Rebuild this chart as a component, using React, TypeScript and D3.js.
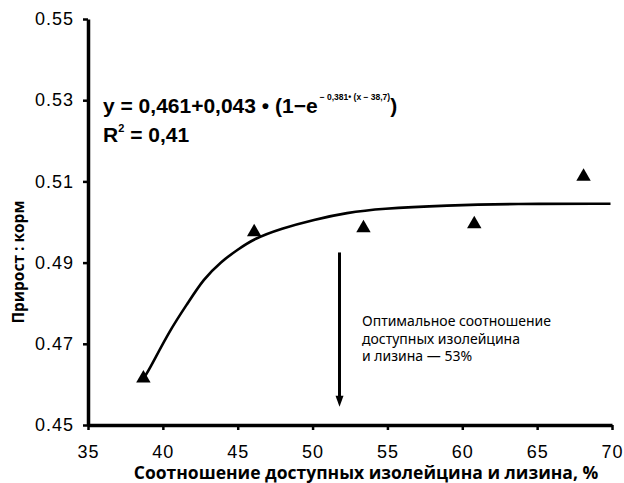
import React, { useRef, useEffect } from 'react';
import * as d3 from 'd3';

// observed points (isoleucine:lysine ratio, gain:feed)
const ratioX = [38.7, 46.1, 53.4, 60.8, 68.1];
const gainFeed = [0.4615, 0.4975, 0.4985, 0.4995, 0.5112];

// fitted curve
const fitX = [38.7, 39.0, 40.5, 41.7, 42.7, 43.9, 45.0, 46.1, 47.9, 50.1, 52.3, 54.5, 59.0, 63.4, 69.9];
const fitY = [0.4615, 0.4630, 0.4736, 0.4802, 0.4859, 0.4903, 0.4932, 0.4959, 0.4984, 0.5006, 0.5023, 0.5033, 0.5041, 0.5045, 0.5045];

const xTicks = [35, 40, 45, 50, 55, 60, 65, 70];
const yTicks = [0.45, 0.47, 0.49, 0.51, 0.53, 0.55];

// optimum arrow
const arrowX = 51.8;
const arrowTop = 0.4925;
const arrowBottom = 0.4545;

const noteLines = ['Оптимальное соотношение', 'доступных изолейцина', 'и лизина — 53%'];

const W = 624;
const H = 483;

const App = () => {
  const xAxisRef = useRef<SVGGElement>(null);
  const yAxisRef = useRef<SVGGElement>(null);

  const x = d3.scaleLinear().domain([35, 70]).range([88, 612]);
  const y = d3.scaleLinear().domain([0.45, 0.55]).range([425, 19]);

  useEffect(() => {
    const xa = d3.select(xAxisRef.current);
    xa.selectAll('*').remove();
    xa.call(
      d3.axisBottom(x).tickValues(xTicks).tickSize(5).tickSizeOuter(0).tickPadding(15).tickFormat(d3.format('d'))
    );
    const ya = d3.select(yAxisRef.current);
    ya.selectAll('*').remove();
    ya.call(
      d3.axisLeft(y).tickValues(yTicks).tickSize(5).tickSizeOuter(0).tickPadding(9).tickFormat(d3.format('.2f'))
    );
    [xa, ya].forEach((g) => {
      g.select('.domain').attr('stroke', '#000').attr('stroke-width', 3.5);
      g.selectAll('.tick line').attr('stroke', '#000').attr('stroke-width', 2.5);
      g.selectAll('.tick text')
        .attr('fill', '#000')
        .style('font-family', '"Liberation Sans Narrow", "Liberation Sans", Arial, sans-serif')
        .style('font-size', '18px')
        .style('letter-spacing', '1px');
    });
  }, []);

  const line = d3
    .line<number>()
    .x((d, i) => x(fitX[i]))
    .y((d) => y(d))
    .curve(d3.curveBasis);

  const tri = d3.symbol().type(d3.symbolTriangle).size(90);

  return (
    <svg width={W} height={H} style={{ position: 'absolute', left: 0, top: 0, background: '#fff' }}>
      <path d={line(fitY) || ''} fill="none" stroke="#000" strokeWidth={2.6} />
      {ratioX.map((d, i) => (
        <path key={i} d={tri() || ''} transform={`translate(${x(d)},${y(gainFeed[i])})`} fill="#000" />
      ))}

      <g ref={xAxisRef} transform={`translate(0,${y(0.45)})`} />
      <g ref={yAxisRef} transform={`translate(${x(35)},0)`} />

      {/* optimum arrow */}
      <line x1={x(arrowX)} x2={x(arrowX)} y1={y(arrowTop)} y2={y(arrowBottom) - 8} stroke="#000" strokeWidth={3} />
      <path
        d={`M${x(arrowX) - 4},${y(arrowBottom) - 11} L${x(arrowX) + 4},${y(arrowBottom) - 11} L${x(arrowX)},${y(arrowBottom)} Z`}
        fill="#000"
      />
      <text fontFamily='"Noto Sans", "Open Sans", sans-serif' fontSize={14} fill="#000">
        {noteLines.map((t, i) => (
          <tspan key={i} x={362} y={326 + i * 17.5}>
            {t}
          </tspan>
        ))}
      </text>

      {/* regression equation */}
      <text x={103} y={113} fontFamily='"Liberation Sans", Arial, sans-serif' fontWeight="bold" fontSize={21} fill="#000">
        y = 0,461+0,043 • (1−e
        <tspan dx={2} dy={-13} fontSize={8.5}>− 0,381• (x − 38,7)</tspan>
        <tspan dy={13}>)</tspan>
      </text>
      <text x={103} y={142} fontFamily='"Liberation Sans", Arial, sans-serif' fontWeight="bold" fontSize={21} fill="#000">
        R<tspan dy={-10} fontSize={11}>2</tspan>
        <tspan dy={10}> = 0,41</tspan>
      </text>

      {/* axis titles */}
      <text
        x={366}
        y={479}
        textAnchor="middle"
        fontFamily='"Open Sans", "Noto Sans", sans-serif'
        fontWeight="bold"
        fontSize={17.5}
        fill="#000"
      >
        Соотношение доступных изолейцина и лизина, %
      </text>
      <text
        transform="translate(24,262) rotate(-90)"
        textAnchor="middle"
        fontFamily='"Open Sans", "Noto Sans", sans-serif'
        fontWeight="bold"
        fontSize={15.5}
        fill="#000"
      >
        Прирост : корм
      </text>
    </svg>
  );
};

export default App;
